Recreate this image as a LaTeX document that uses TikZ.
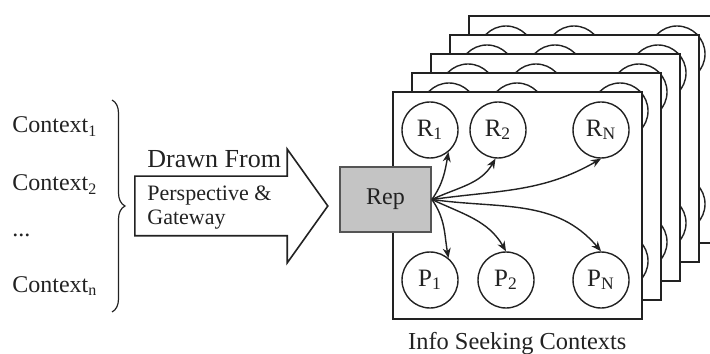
\documentclass[tikz,border=0pt]{standalone}
\usepackage{fontspec}
\setmainfont{Liberation Serif}
\usetikzlibrary{arrows.meta, positioning, shapes.arrows, decorations.pathreplacing}
\definecolor{lineDark}{HTML}{222222}
\definecolor{repGray}{HTML}{C4C4C4}
\definecolor{repEdge}{HTML}{555555}
\newcommand{\lsub}[1]{\textsubscript{#1}}
\tikzset{
  arrowK/.style={-{Stealth[length=5pt, width=4pt]}, lineDark, line width=0.7pt},
  frameBox/.style={rectangle, draw=lineDark, fill=white, line width=0.8pt,
                   minimum width=124.5pt, minimum height=113.5pt, anchor=north west},
  ctxCirc/.style={circle, draw=lineDark, fill=white, line width=0.7pt,
                  minimum size=28pt, inner sep=0pt, font=\fontsize{12.5}{14}\selectfont},
  repBox/.style={rectangle, draw=repEdge, fill=repGray, line width=0.9pt,
                 minimum width=45.5pt, minimum height=32.5pt, font=\fontsize{12}{14}\selectfont},
  ctxText/.style={anchor=base west, inner sep=0pt, font=\fontsize{12}{14}\selectfont},
}

\begin{document}
\begin{tikzpicture}[x=0.5pt, y=0.5pt, color=lineDark]
  \useasboundingbox (0,0) rectangle (710,353);
  \clip (0,0) rectangle (710,353);

  % contexts and the brace gathering them
  \node[ctxText] (c1) at (12,220) {Context\lsub{1}};
  \node[ctxText] (c2) at (12,162) {Context\lsub{2}};
  \node[ctxText] (cdots) at (12,117) {...};
  \node[ctxText] (cn) at (12,61) {Context\lsub{n}};
  \coordinate (btop) at (112,253);
  \coordinate (bbot) at (112,41);
  \draw[decorate, decoration={brace, amplitude=6.5pt}, line width=0.6pt] (btop) -- (bbot);

  % big block arrow
  \node[single arrow, draw=lineDark, fill=white, line width=0.8pt, anchor=tail,
        minimum height=96.5pt, inner xsep=0pt, inner ysep=14.5pt,
        single arrow head extend=13.5pt, single arrow tip angle=109] (drawn) at (134,147) {};
  \node[ctxText, font=\fontsize{13}{15}\selectfont] (dfrom) at (147,185) {Drawn From};
  \node[anchor=west, inner sep=0pt, align=left, font=\fontsize{11}{12}\selectfont]
        (persp) at (147,145) {Perspective \&\\Gateway};

  % stack of context frames, back to front
  \foreach \k in {4,3,2,1,0}{
    \begin{scope}[shift={(19*\k,19*\k)}]
      \node[frameBox] (frame-\k) at (392,262) {};
      \node[ctxCirc] (R1-\k) at (430,223) {R\lsub{1}};
      \node[ctxCirc] (R2-\k) at (498,223) {R\lsub{2}};
      \node[ctxCirc] (RN-\k) at (601,223) {R\lsub{N}};
      \node[ctxCirc] (P1-\k) at (430,73) {P\lsub{1}};
      \node[ctxCirc] (P2-\k) at (506,73) {P\lsub{2}};
      \node[ctxCirc] (PN-\k) at (601,73) {P\lsub{N}};
    \end{scope}
  }
  \node[below=6pt of frame-0, inner sep=0pt, font=\fontsize{12.2}{14}\selectfont] (info) {Info Seeking Contexts};

  % representation fanning out
  \node[repBox] (rep) at (385.5,153.5) {Rep};
  \draw[arrowK] (rep.east) to[out=55, in=-100] (R1-0.-50);
  \draw[arrowK] (rep.east) to[out=25, in=-120] (R2-0.-95);
  \draw[arrowK] (rep.east) to[out=8, in=-150] (RN-0.-90);
  \draw[arrowK] (rep.east) to[out=-55, in=100] (P1-0.50);
  \draw[arrowK] (rep.east) to[out=-25, in=120] (P2-0.90);
  \draw[arrowK] (rep.east) to[out=-8, in=130] (PN-0.90);
\end{tikzpicture}
\end{document}
